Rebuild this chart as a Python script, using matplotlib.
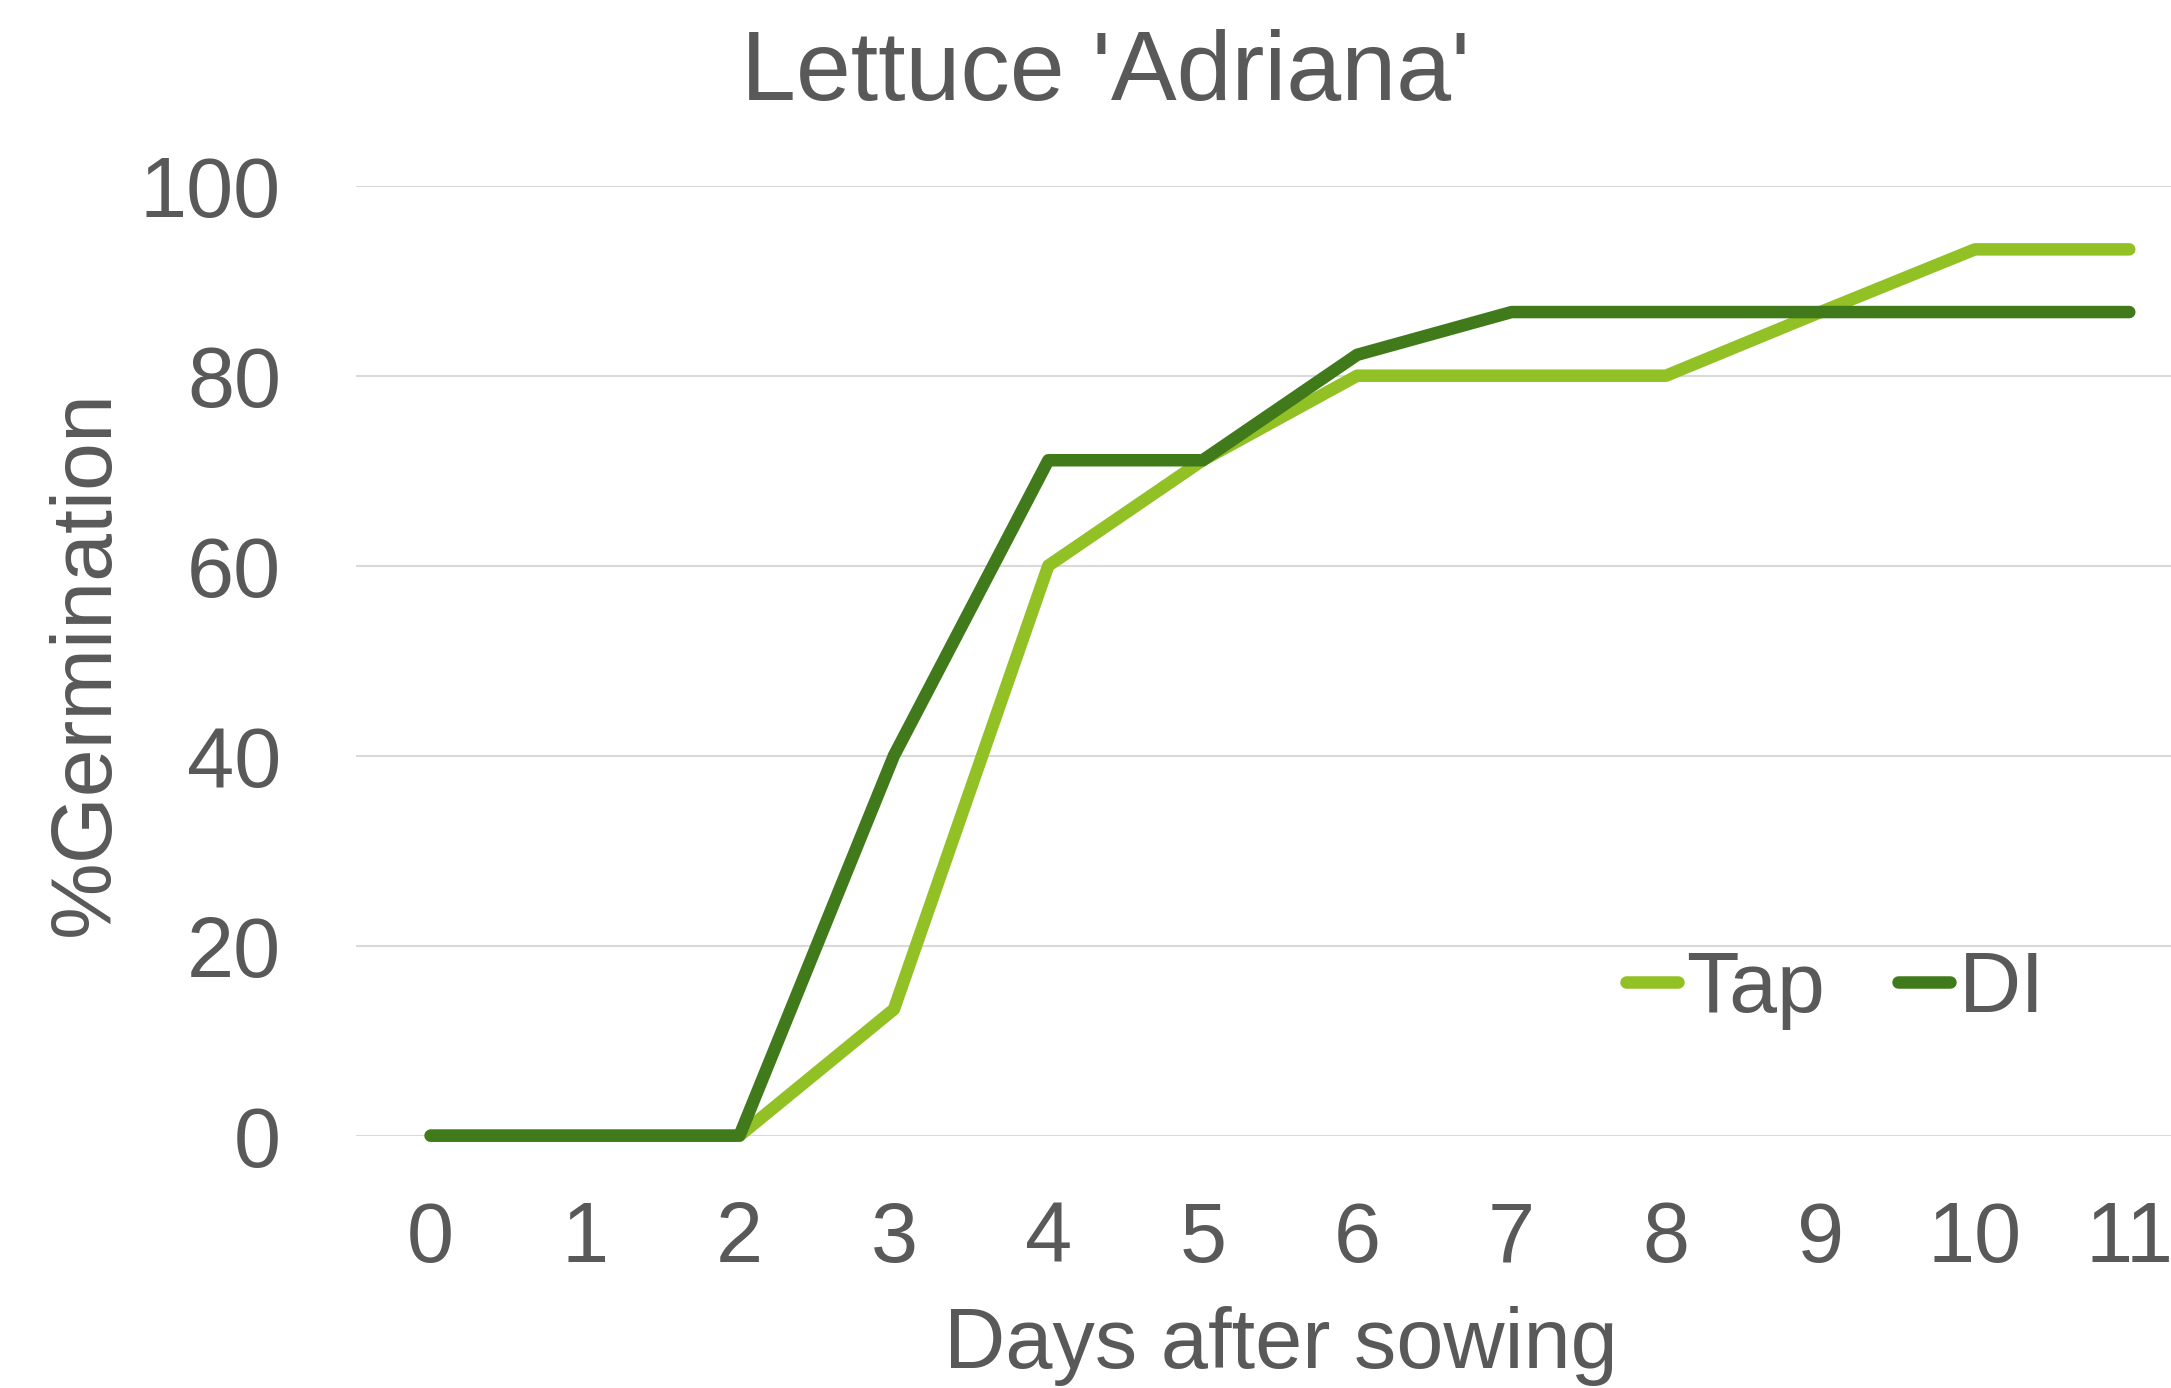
#%% libraries
import matplotlib
matplotlib.use("Agg")
import matplotlib.pyplot as plt

#%% data
days = [0, 1, 2, 3, 4, 5, 6, 7, 8, 9, 10, 11]
tap = [0, 0, 0, 13.3, 60.0, 71.1, 80.0, 80.0, 80.0, 86.7, 93.3, 93.3]
di = [0, 0, 0, 40.0, 71.1, 71.1, 82.2, 86.7, 86.7, 86.7, 86.7, 86.7]
series_names = ["Tap", "DI"]
y_ticks = [0, 20, 40, 60, 80, 100]

#%% styling
plt.rcParams['font.family'] = ['Liberation Sans', 'DejaVu Sans']
txt = "#595959"
tap_col = "#92C125"
di_col = "#407A1B"

fig = plt.figure(figsize=(21.71, 13.88), dpi=100)
ax = fig.add_axes([0.164, 0.1818, 0.836, 0.6844])

lw = 9.0
ax.plot(days, tap, color=tap_col, lw=lw, solid_capstyle='round',
        solid_joinstyle='round', clip_on=False, label=series_names[0], zorder=3)
ax.plot(days, di, color=di_col, lw=lw, solid_capstyle='round',
        solid_joinstyle='round', clip_on=False, label=series_names[1], zorder=3)

ax.set_xlim(-0.483, 11.27)
ax.set_ylim(0, 100)
ax.set_xticks(days)
ax.set_yticks(y_ticks)
ax.grid(axis='y', color="#D9D9D9", lw=1.5)
ax.set_axisbelow(True)
for s in ax.spines.values():
    s.set_visible(False)
ax.tick_params(axis='both', length=0, labelsize=61, colors=txt)
ax.tick_params(axis='x', pad=46)
ax.tick_params(axis='y', pad=54)

fig.text(0.509, 0.928, "Lettuce 'Adriana'", ha='center', va='baseline',
         fontsize=71, color=txt)
fig.text(0.590, 0.0144, "Days after sowing", ha='center', va='baseline',
         fontsize=61, color=txt)
fig.text(0.040, 0.522, "%Germination", ha='center', va='center',
         rotation=90, fontsize=62, color=txt)

leg = ax.legend(loc='center left', bbox_to_anchor=(1626 / 2171, 1 - 990 / 1388),
                bbox_transform=fig.transFigure, ncol=2, frameon=False,
                fontsize=62, labelcolor=txt, handlelength=0.6,
                handletextpad=0.1, columnspacing=0.85, borderpad=0,
                borderaxespad=0)

fig.savefig("out.png", dpi=100)
